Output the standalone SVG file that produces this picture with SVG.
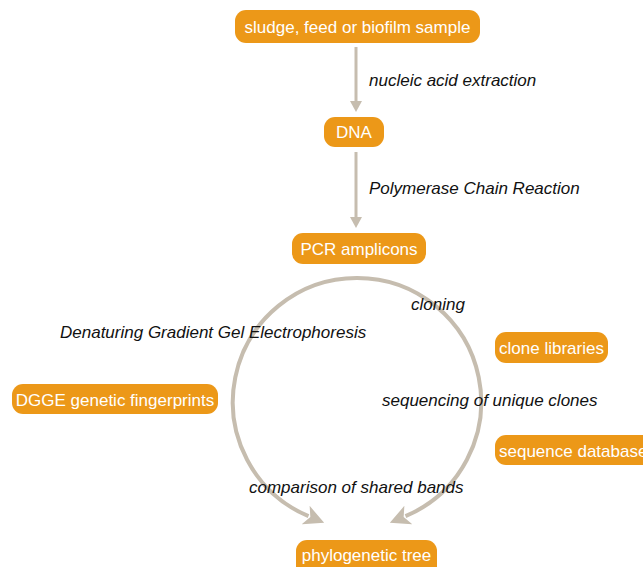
<svg xmlns="http://www.w3.org/2000/svg" width="643" height="567" viewBox="0 0 643 567">
<style>
.box{fill:#EC9818;}
.nt{font-family:"Liberation Sans",Arial,sans-serif;font-size:17px;fill:#fff;text-anchor:middle;}
.lb{font-family:"Liberation Sans",Arial,sans-serif;font-size:17px;font-style:italic;fill:#111;}
.ln{fill:none;stroke:#C6BDAF;stroke-width:3;}
.arc{fill:none;stroke:#C6BDAF;stroke-width:4;}
</style>
<defs>
<marker id="ah" markerUnits="userSpaceOnUse" markerWidth="12" markerHeight="12" viewBox="0 0 12 12" refX="1" refY="6" orient="auto">
<path d="M0,0 L11,6 L0,12 z" fill="#C6BDAF"/>
</marker>
<marker id="ahb" markerUnits="userSpaceOnUse" markerWidth="22" markerHeight="22" viewBox="0 0 22 22" refX="3" refY="11" orient="auto">
<path d="M0,1 L20,11 L0,21 L5,11 z" fill="#C6BDAF"/>
</marker>
</defs>
<g id="connectors">
<line class="ln" x1="356" y1="47" x2="356" y2="102" marker-end="url(#ah)"/>
<line class="ln" x1="356" y1="152" x2="356" y2="218" marker-end="url(#ah)"/>
<path class="arc" d="M357,278 A124,124 0 0 0 308.5,516.2" marker-end="url(#ahb)"/>
<path class="arc" d="M357,278 A124,124 0 0 1 405.5,516.2" marker-end="url(#ahb)"/>
</g>
<g id="labels">
<text class="lb" x="369" y="86">nucleic acid extraction</text>
<text class="lb" x="369" y="194">Polymerase Chain Reaction</text>
<text class="lb" x="411" y="310">cloning</text>
<text class="lb" x="60" y="338">Denaturing Gradient Gel Electrophoresis</text>
<text class="lb" x="382" y="406">sequencing of unique clones</text>
<text class="lb" x="249" y="493">comparison of shared bands</text>
</g>
<g id="sample">
<rect class="box" x="235" y="10" width="245" height="33" rx="11"/>
<text class="nt" x="357.5" y="33">sludge, feed or biofilm sample</text>
</g>
<g id="dna">
<rect class="box" x="324" y="117" width="60" height="30" rx="11"/>
<text class="nt" x="354" y="138">DNA</text>
</g>
<g id="pcr">
<rect class="box" x="292" y="233" width="134" height="31" rx="11"/>
<text class="nt" x="359" y="255">PCR amplicons</text>
</g>
<g id="clone-libraries">
<rect class="box" x="495" y="332" width="113" height="31" rx="11"/>
<text class="nt" x="551.5" y="354">clone libraries</text>
</g>
<g id="dgge">
<rect class="box" x="12" y="384" width="206" height="30" rx="11"/>
<text class="nt" x="115" y="406">DGGE genetic fingerprints</text>
</g>
<g id="sequence-database">
<rect class="box" x="495" y="435" width="170" height="30" rx="11"/>
<text class="nt" x="499" y="457" style="text-anchor:start">sequence database</text>
</g>
<g id="phylogenetic-tree">
<rect class="box" x="296" y="540" width="141" height="40" rx="11"/>
<text class="nt" x="366.5" y="561">phylogenetic tree</text>
</g>
</svg>
